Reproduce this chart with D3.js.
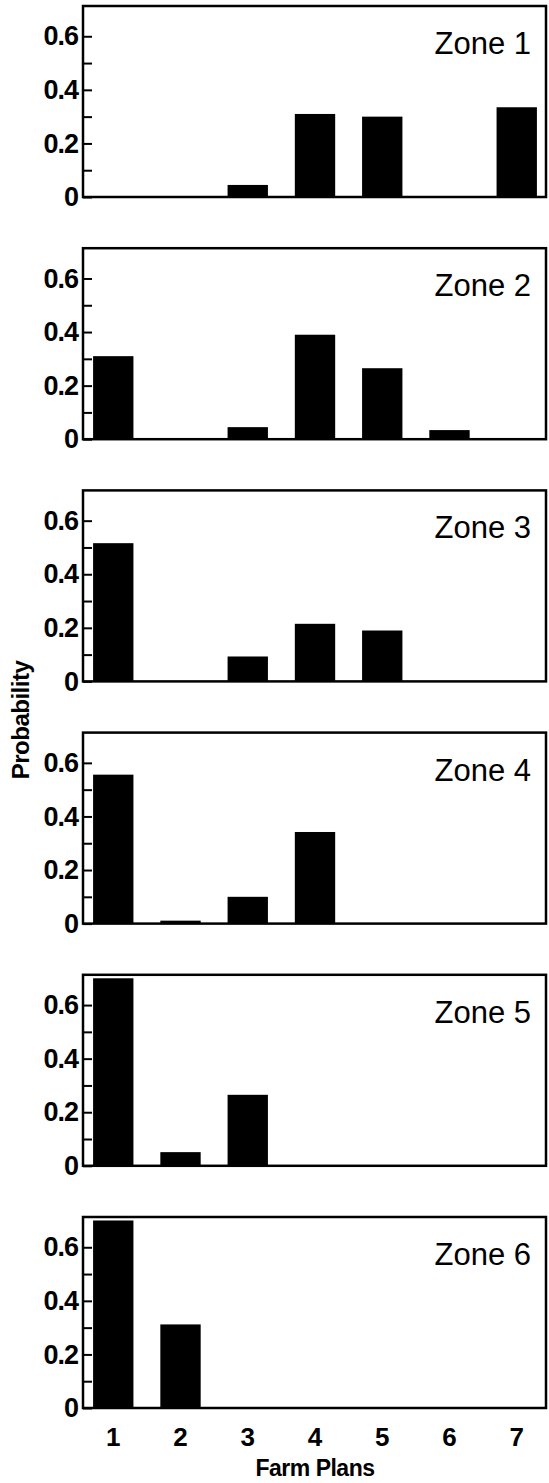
<!DOCTYPE html>
<html>
<head>
<meta charset="utf-8">
<script src="https://cdn.jsdelivr.net/npm/d3@7"></script>
<style>
  body { margin: 0; background: #fff; }
  text { font-family: "Liberation Sans", Arial, Helvetica, sans-serif; fill: #000; }
</style>
</head>
<body>
<div id="chart-container"></div>
<script>
// Farm plan categories
const plans = ["1", "2", "3", "4", "5", "6", "7"];
const zoneNames = ["Zone 1", "Zone 2", "Zone 3", "Zone 4", "Zone 5", "Zone 6"];

// Probability of each farm plan, per zone
const zone1 = [0, 0, 0.045, 0.31, 0.30, 0, 0.335];
const zone2 = [0.31, 0, 0.045, 0.39, 0.265, 0.034, 0];
const zone3 = [0.516, 0, 0.093, 0.215, 0.19, 0, 0];
const zone4 = [0.556, 0.011, 0.10, 0.342, 0, 0, 0];
const zone5 = [0.70, 0.051, 0.265, 0, 0, 0, 0];
const zone6 = [0.70, 0.312, 0, 0, 0, 0, 0];

const yTicks = [0, 0.1, 0.2, 0.3, 0.4, 0.5, 0.6];
const yLabelTicks = [0, 0.2, 0.4, 0.6];

const zones = [zone1, zone2, zone3, zone4, zone5, zone6];

const width = 549, height = 1483;
const margin = {left: 83, right: 2, top: 6};
const panelHeight = 191;
const panelStep = 242.2;
const plotWidth = width - margin.left - margin.right;

const svg = d3.select("#chart-container")
    .append("svg")
    .attr("width", width)
    .attr("height", height);

const xScale = d3.scaleBand()
    .domain(plans)
    .range([0, plotWidth])
    .paddingInner(0.4)
    .paddingOuter(0.15);

const yScale = d3.scaleLinear()
    .domain([0, 0.713])
    .range([panelHeight, 0]);

const yAxis = d3.axisLeft(yScale)
    .tickValues(yTicks)
    .tickSize(-9)
    .tickPadding(5)
    .tickFormat(d => yLabelTicks.some(v => Math.abs(v - d) < 1e-9) ? (d === 0 ? "0" : d3.format(".1f")(d)) : "");

zones.forEach((values, i) => {
    const g = svg.append("g")
        .attr("transform", `translate(${margin.left},${margin.top + i * panelStep})`);

    // bars
    g.selectAll(".bar")
        .data(values.map((v, j) => ({plan: plans[j], value: v})).filter(d => d.value > 0))
        .enter()
        .append("rect")
        .attr("class", "bar")
        .attr("x", d => xScale(d.plan))
        .attr("y", d => yScale(d.value))
        .attr("width", xScale.bandwidth())
        .attr("height", d => panelHeight - yScale(d.value))
        .attr("fill", "#000");

    // frame
    g.append("rect")
        .attr("x", 0)
        .attr("y", 0)
        .attr("width", plotWidth - 1)
        .attr("height", panelHeight)
        .attr("fill", "none")
        .attr("stroke", "#000")
        .attr("stroke-width", 2.5);

    // y axis, ticks pointing inward
    const axisG = g.append("g").call(yAxis);
    axisG.select(".domain").remove();
    axisG.selectAll(".tick line")
        .attr("stroke", "#000")
        .attr("stroke-width", 2);
    axisG.selectAll(".tick text")
        .style("font-family", "'Liberation Sans', Arial, sans-serif")
        .style("font-size", "27px")
        .style("font-weight", "bold")
        .style("letter-spacing", "-1px")
        .attr("fill", "#000");

    // zone label
    g.append("text")
        .attr("x", 448)
        .attr("y", 48)
        .attr("text-anchor", "end")
        .style("font-size", "31px")
        .text(zoneNames[i]);
});

// x tick labels under the last panel
const lastTop = margin.top + (zones.length - 1) * panelStep;
svg.append("g")
    .attr("transform", `translate(${margin.left},0)`)
    .selectAll(".x-label")
    .data(plans)
    .enter()
    .append("text")
    .attr("class", "x-label")
    .attr("x", d => xScale(d) + xScale.bandwidth() / 2)
    .attr("y", lastTop + panelHeight + 38)
    .attr("text-anchor", "middle")
    .style("font-size", "26px")
    .style("font-weight", "bold")
    .text(d => d);

// x axis title
svg.append("text")
    .attr("x", margin.left + plotWidth / 2)
    .attr("y", lastTop + panelHeight + 68)
    .attr("text-anchor", "middle")
    .style("font-size", "23px")
    .style("font-weight", "bold")
    .style("letter-spacing", "-0.5px")
    .text("Farm Plans");

// y axis title
svg.append("text")
    .attr("transform", "translate(29,720) rotate(-90)")
    .attr("text-anchor", "middle")
    .style("font-size", "24px")
    .style("font-weight", "bold")
    .style("letter-spacing", "-0.5px")
    .text("Probability");
</script>
</body>
</html>
